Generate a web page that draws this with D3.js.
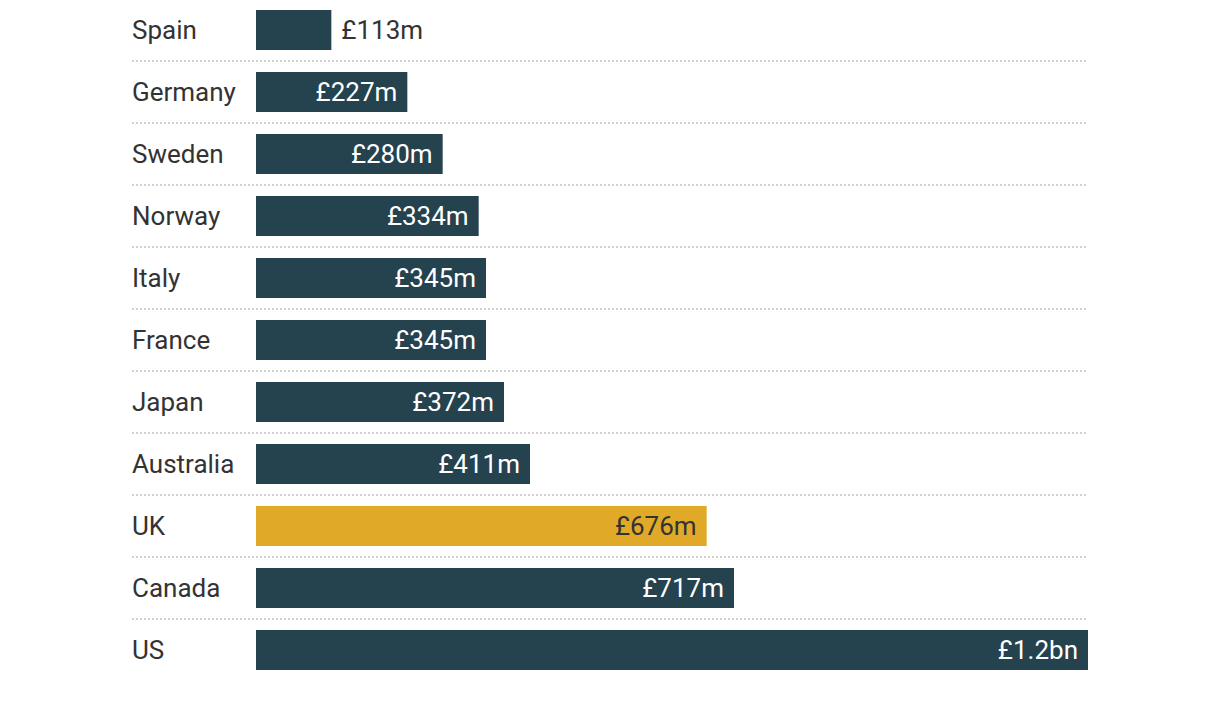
<!DOCTYPE html>
<html>
<head>
<meta charset="utf-8">
<script src="https://cdn.jsdelivr.net/npm/d3@7"></script>
<style>
  html, body { margin: 0; padding: 0; background: #fff; }
  svg { display: block; font-family: Roboto, "Noto Sans", sans-serif; }
</style>
</head>
<body>
<svg id="chart" width="1220" height="726"></svg>
<script>
const countries = ["Spain", "Germany", "Sweden", "Norway", "Italy", "France", "Japan", "Australia", "UK", "Canada", "US"];
const values = [113, 227, 280, 334, 345, 345, 372, 411, 676, 717, 1248];
const valueLabels = ["£113m", "£227m", "£280m", "£334m", "£345m", "£345m", "£372m", "£411m", "£676m", "£717m", "£1.2bn"];
const highlight = ["UK"];

const svg = d3.select("#chart");
const labelX = 132, barX = 256, rightX = 1088;
const firstTop = 10, step = 62, barH = 40;
const gap = step - barH;

const x = d3.scaleLinear().domain([0, d3.max(values)]).range([barX, rightX]);
const y = d3.scaleBand().domain(countries)
  .range([firstTop - gap / 2, firstTop - gap / 2 + step * countries.length])
  .paddingInner(gap / step).paddingOuter(gap / step / 2);

const data = countries.map((c, i) => ({ c, v: values[i], label: valueLabels[i] }));

// dotted separators
svg.append("g").selectAll("line").data(countries.slice(1)).join("line")
  .attr("x1", labelX).attr("x2", rightX)
  .attr("y1", d => Math.round(y(d) - gap / 2))
  .attr("y2", d => Math.round(y(d) - gap / 2))
  .attr("stroke", "#d2d2d2").attr("stroke-width", 2).attr("stroke-dasharray", "2,2");

const row = svg.append("g").selectAll("g").data(data).join("g");

row.append("rect")
  .attr("x", x(0)).attr("y", d => y(d.c))
  .attr("width", d => x(d.v) - x(0)).attr("height", y.bandwidth())
  .attr("fill", d => highlight.includes(d.c) ? "#e0aa28" : "#25424f");

row.append("text")
  .attr("x", labelX).attr("y", d => y(d.c) + y.bandwidth() / 2)
  .attr("dy", "0.35em")
  .attr("font-size", 26).attr("font-weight", 400).attr("fill", "#333")
  .text(d => d.c);

const inside = d => (x(d.v) - x(0)) > 110;
row.append("text")
  .attr("x", d => inside(d) ? x(d.v) - 10 : x(d.v) + 10)
  .attr("y", d => y(d.c) + y.bandwidth() / 2)
  .attr("dy", "0.35em")
  .attr("text-anchor", d => inside(d) ? "end" : "start")
  .attr("font-size", 26).attr("font-weight", 400)
  .attr("fill", d => (!inside(d) || highlight.includes(d.c)) ? "#333" : "#fff")
  .text(d => d.label);
</script>
</body>
</html>
